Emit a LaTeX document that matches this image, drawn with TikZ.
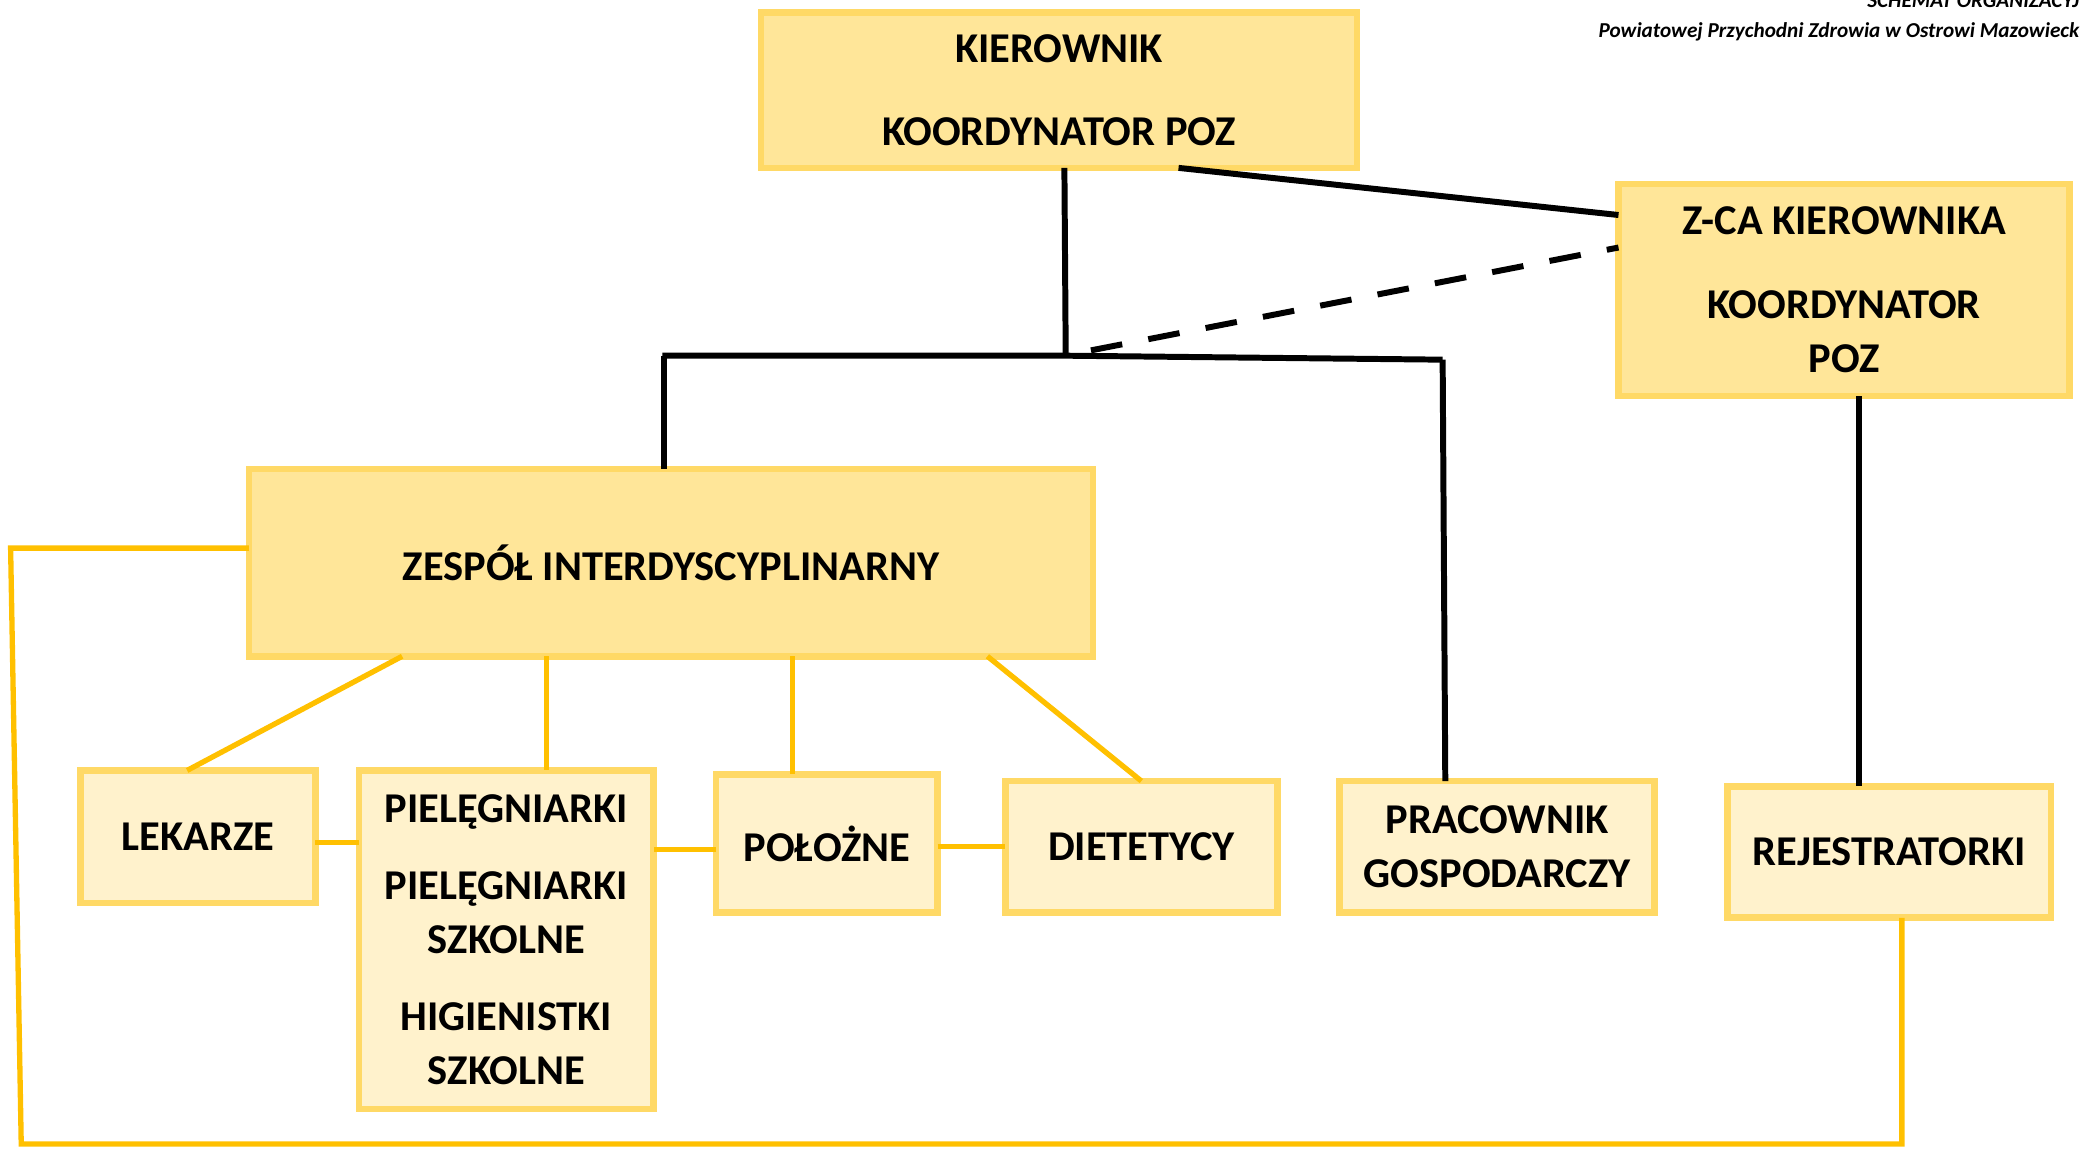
\documentclass[tikz,border=0pt]{standalone}
\usepackage{fontspec}
\setmainfont{Carlito}
\definecolor{boxfill}{HTML}{FFE699}
\definecolor{boxfilllight}{HTML}{FFF2CC}
\definecolor{boxborder}{HTML}{FFD966}
\definecolor{gold}{HTML}{FFC000}
\begin{document}
\begin{tikzpicture}[x=1pt,y=-1pt,
  base/.style={draw=boxborder, line width=5pt, rectangle, inner sep=0pt, outer sep=0pt,
    align=center, font=\bfseries\fontsize{32}{41}\selectfont},
  topbox/.style={base, fill=boxfill},
  lowbox/.style={base, fill=boxfilllight},
  blk/.style={line width=4.5pt, black},
  ylw/.style={line width=4pt, gold},
  titletext/.style={font=\bfseries\itshape\fontsize{16}{19}\selectfont, inner sep=0pt, anchor=base east}]
\useasboundingbox (0,0) rectangle (1568,865);
\clip (0,0) rectangle (1568,865);

% title
\node[titletext] (t1) at (1567,6) {SCHEMAT ORGANIZACYJ};
\node[titletext] (t2) at (1567,28) {Powiatowej Przychodni Zdrowia w Ostrowi Mazowieck};

% boxes
\node[topbox, minimum width=449, minimum height=117] (kier) at (798,68)
  {KIEROWNIK\\[22pt]KOORDYNATOR POZ};
\node[topbox, minimum width=340, minimum height=160] (zca) at (1389.5,218.5)
  {Z-CA KIEROWNIKA\\[22pt]KOORDYNATOR\\POZ};
\node[topbox, minimum width=636, minimum height=141] (zesp) at (505.5,424)
  {ZESPÓŁ INTERDYSCYPLINARNY};
\node[lowbox, minimum width=177, minimum height=100] (lek) at (149,630.5) {LEKARZE};
\node[lowbox, minimum width=222, minimum height=255] (piel) at (381.5,708)
  {PIELĘGNIARKI\\[17pt]PIELĘGNIARKI\\SZKOLNE\\[17pt]HIGIENISTKI\\SZKOLNE};
\node[lowbox, minimum width=167, minimum height=104] (pol) at (623,635.5) {POŁOŻNE};
\node[lowbox, minimum width=205, minimum height=99] (diet) at (860,638) {DIETETYCY};
\node[lowbox, minimum width=237, minimum height=99] (prac) at (1128,638) {PRACOWNIK\\GOSPODARCZY};
\node[lowbox, minimum width=244, minimum height=99] (rej) at (1423.5,642) {REJESTRATORKI};

% junction coordinates
\coordinate (jl) at (499,268);
\coordinate (jm) at (803,268);
\coordinate (jr) at (1087,271);
\coordinate (ds) at (822,264);
\coordinate (la) at (8,413);
\coordinate (lb) at (16,862);
\coordinate (lc) at (1433,862);

% black connectors
\draw[blk] ([xshift=4pt]kier.south) -- (jm);
\draw[blk] (jl) -- (jm) -- (jr);
\draw[blk] ([xshift=1pt]jl) -- ([xshift=1pt]jl |- zesp.north);
\draw[blk] (jr) -- ([xshift=-39pt]prac.north);
\draw[blk] ([xshift=90pt]kier.south) -- ([yshift=56.5pt]zca.west);
\draw[blk, dash pattern=on 24pt off 20pt] (ds) -- ([yshift=32pt]zca.west);
\draw[blk] ([xshift=11.5pt]zca.south) -- ([xshift=-22.5pt]rej.north);

% yellow connectors
\draw[ylw] ([xshift=-202.5pt]zesp.south) -- ([xshift=-8pt]lek.north);
\draw[ylw] ([xshift=-93.5pt]zesp.south) -- ([xshift=30.5pt]piel.north);
\draw[ylw] ([xshift=91.5pt]zesp.south) -- ([xshift=-26pt]pol.north);
\draw[ylw] ([xshift=238.5pt]zesp.south) -- (diet.north);
\draw[ylw] ([yshift=-4.5pt]lek.east) -- ([yshift=-4.5pt]lek.east -| piel.west);
\draw[ylw] ([yshift=-4.5pt]pol.west) -- ([yshift=-4.5pt]pol.west -| piel.east);
\draw[ylw] ([yshift=-2.5pt]pol.east) -- ([yshift=-2.5pt]pol.east -| diet.west);
\draw[ylw] ([yshift=11pt]zesp.west) -- (la) -- (lb) -- (lc) -- (lc |- rej.south);
\end{tikzpicture}
\end{document}
